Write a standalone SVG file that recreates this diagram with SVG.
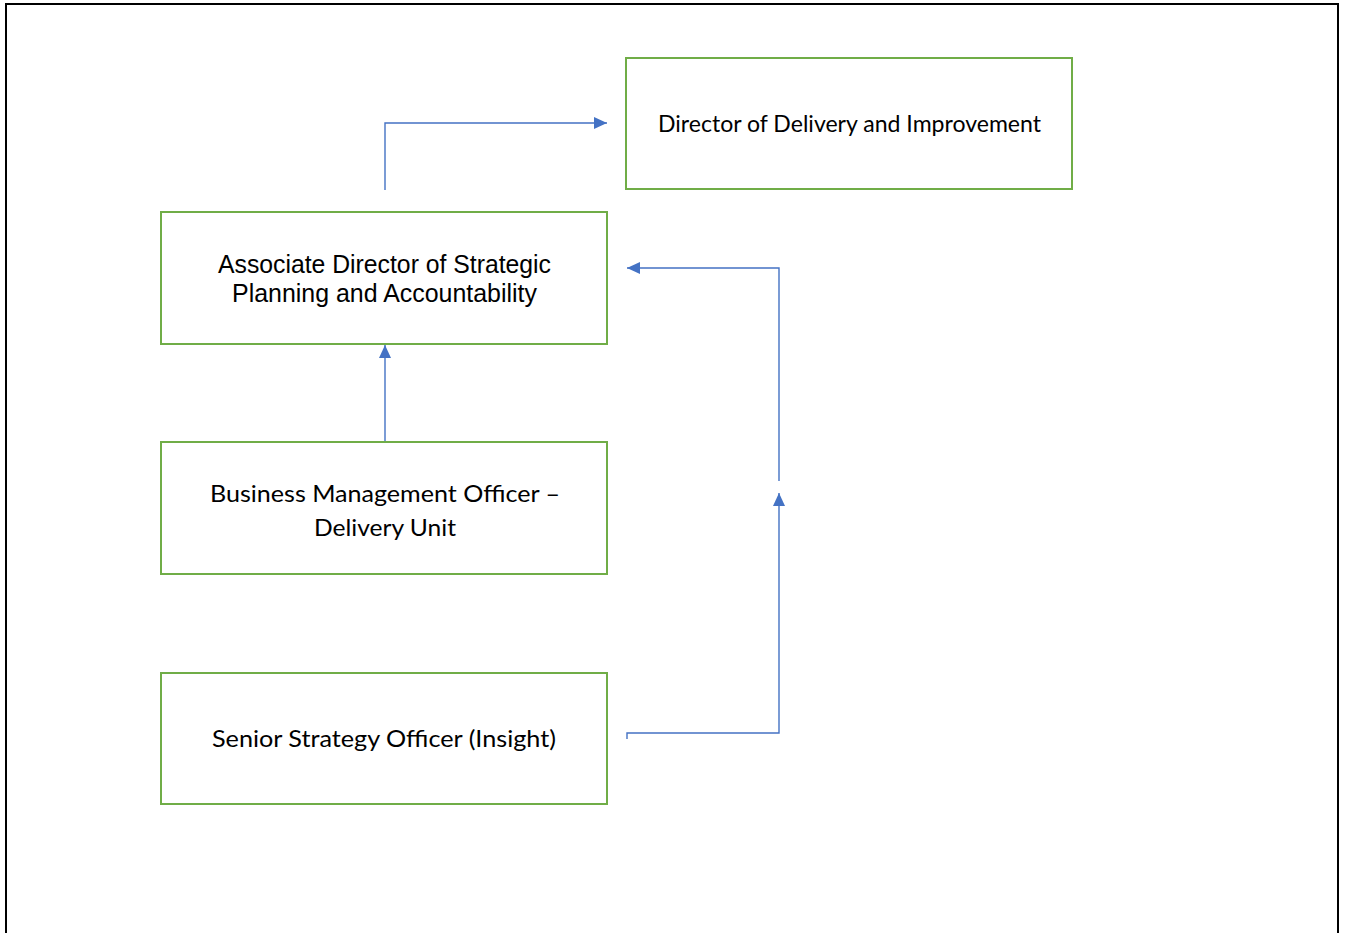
<svg xmlns="http://www.w3.org/2000/svg" width="1346" height="933" viewBox="0 0 1346 933">
  <style>
    .frame { fill: none; stroke: #000; stroke-width: 2; }
    .box { fill: #fff; stroke: #70AD47; stroke-width: 2; }
    .link { fill: none; stroke: #4472C4; stroke-width: 1.4; }
    .arial { font-family: "Liberation Sans", Arial, sans-serif; font-size: 25px; fill: #000; }
    .cal { font-family: Lato, "Open Sans", sans-serif; font-size: 23px; fill: #000; }
  </style>
  <defs>
    <marker id="arrow" viewBox="0 0 13 12" refX="13" refY="6" markerWidth="13" markerHeight="12" markerUnits="userSpaceOnUse" orient="auto">
      <path d="M0,0 L13,6 L0,12 Z" fill="#4472C4"/>
    </marker>
  </defs>
  <rect width="1346" height="933" fill="#fff"/>

  <!-- page frame, open at the bottom -->
  <path class="frame" d="M6,940 V4 H1338 V940"/>

  <g id="connectors">
    <path class="link" d="M385,190 V123 H607" marker-end="url(#arrow)"/>
    <path class="link" d="M385,442 V345" marker-end="url(#arrow)"/>
    <path class="link" d="M627,739 V733 H779 V493" marker-end="url(#arrow)"/>
    <path class="link" d="M779,481 V268 H627" marker-end="url(#arrow)"/>
  </g>

  <g id="director">
    <rect class="box" x="626" y="58" width="446" height="131"/>
    <text class="cal" x="658" y="132" textLength="383" lengthAdjust="spacingAndGlyphs">Director of Delivery and Improvement</text>
  </g>

  <g id="associate-director">
    <rect class="box" x="161" y="212" width="446" height="132"/>
    <text class="arial" x="218" y="273" textLength="333" lengthAdjust="spacingAndGlyphs">Associate Director of Strategic</text>
    <text class="arial" x="232" y="302" textLength="305" lengthAdjust="spacingAndGlyphs">Planning and Accountability</text>
  </g>

  <g id="business-officer">
    <rect class="box" x="161" y="442" width="446" height="132"/>
    <text class="cal" x="210" y="502" textLength="350" lengthAdjust="spacingAndGlyphs">Business Management Officer –</text>
    <text class="cal" x="314" y="536" textLength="142" lengthAdjust="spacingAndGlyphs">Delivery Unit</text>
  </g>

  <g id="senior-officer">
    <rect class="box" x="161" y="673" width="446" height="131"/>
    <text class="cal" x="212" y="747" textLength="344" lengthAdjust="spacingAndGlyphs">Senior Strategy Officer (Insight)</text>
  </g>
</svg>
